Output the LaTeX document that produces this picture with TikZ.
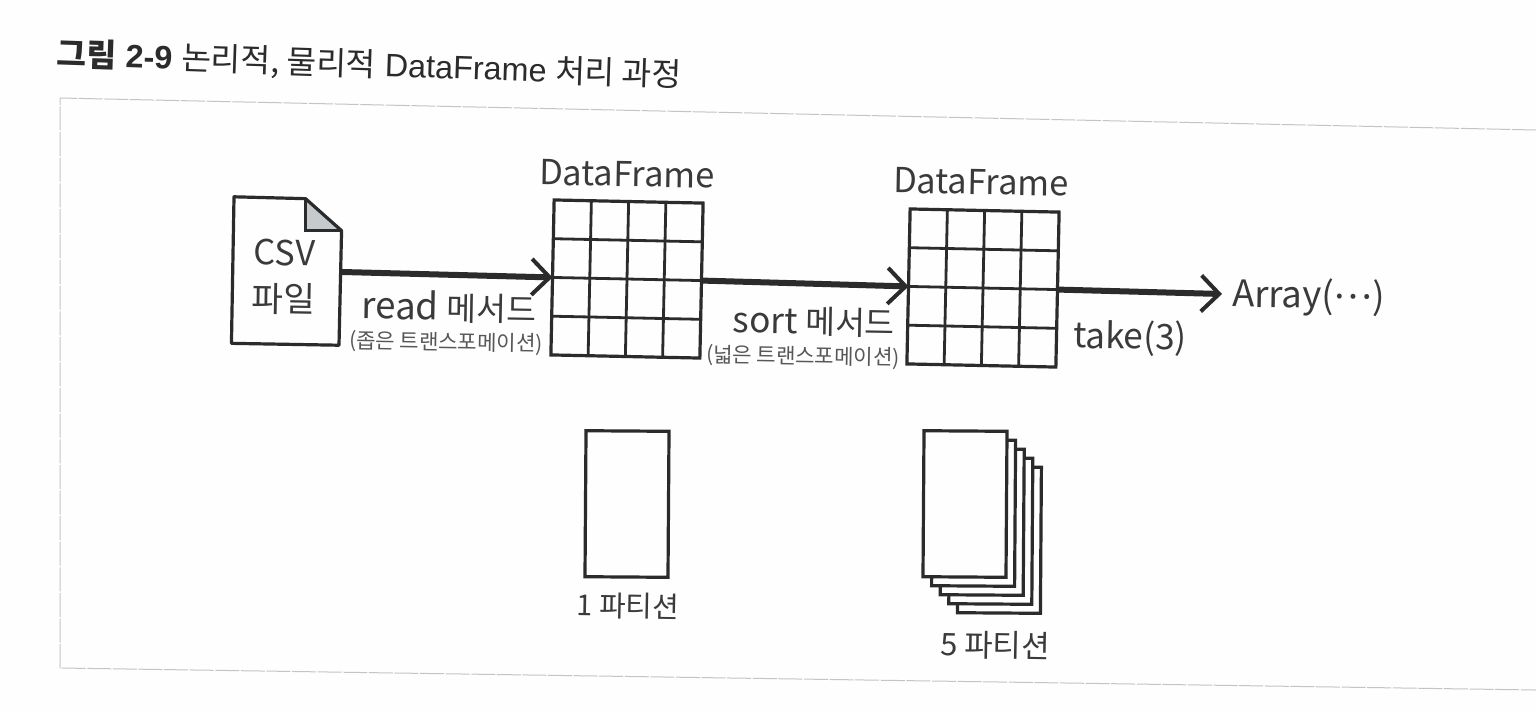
\documentclass[tikz,border=0pt]{standalone}
\usepackage{fontspec}
\usepackage{xcolor}
\usetikzlibrary{arrows.meta,calc}
\setmainfont{Liberation Sans}
\newfontfamily\krfont{Noto Sans CJK KR}
\definecolor{paper}{HTML}{FEFEFE}
\definecolor{ink}{HTML}{2B2B2B}
\definecolor{handink}{HTML}{3A3A3A}
\definecolor{framegray}{HTML}{C4C4C4}
\definecolor{foldgray}{HTML}{C6CACC}
\tikzset{
  >={Straight Barb[length=4.5mm,width=9mm,line width=1mm]},
  flow/.style={draw=ink, line width=1.5mm, ->},
  sheet/.style={draw=ink, fill=paper, line width=.8mm, minimum width=20.75mm,
    minimum height=36.5mm, inner sep=0pt, outer sep=0pt, rotate=-.4},
  gridbox/.style={draw=ink, line width=.8mm, minimum width=37.25mm,
    minimum height=38.75mm, inner sep=0pt, outer sep=0pt, rotate=-1.2},
  gridline/.style={draw=ink, line width=.7mm},
  hand/.style={font=\krfont\fontsize{24.5}{33}\selectfont, text=handink, inner sep=0pt,
    align=center, rotate=-1},
  method/.style={hand, font=\krfont\fontsize{26}{30}\selectfont},
  part/.style={hand, font=\krfont\fontsize{20.5}{24}\selectfont},
  tiny/.style={font=\krfont\fontsize{15}{18}\selectfont, text=handink!85, inner sep=0pt,
    rotate=-1}
}
\begin{document}
\begin{tikzpicture}[x=.25mm,y=-.25mm]
  \useasboundingbox[fill=paper] (0,0) rectangle (1536,712);

  % -------------------------------------------------------------------
  % Caption and page frame.
  \node[font=\fontsize{23}{27}\selectfont, text=ink, anchor=west, inner sep=0pt,
    rotate=-1.9] (caption) at (57,55)
    {{\krfont\bfseries 그림} \textbf{2-9} {\krfont 논리적, 물리적} DataFrame {\krfont 처리 과정}};
  \coordinate (frameTR) at (1536,130);
  \coordinate (frameTL) at (60,98);
  \coordinate (frameBL) at (60,668);
  \coordinate (frameBR) at (1536,690);
  \draw[framegray, line width=.25mm, dash pattern=on 6mm off .4mm]
    (frameTR) -- (frameTL) -- (frameBL) -- (frameBR);

  % -------------------------------------------------------------------
  % CSV file.
  \node[minimum width=26.75mm, minimum height=36.5mm, inner sep=0pt, rotate=-1]
    (csvFile) at (286.5,271) {};
  \path[fill=foldgray] ($(csvFile.north east)+(-36,0)$) -- ($(csvFile.north east)+(0,32)$)
    -- ($(csvFile.north east)+(-36,32)$) -- cycle;
  \draw[ink, line width=.8mm, line join=round] (csvFile.north west)
    -- ($(csvFile.north east)+(-36,0)$) -- ($(csvFile.north east)+(0,32)$)
    -- (csvFile.south east) -- (csvFile.south west) -- cycle;
  \draw[ink, line width=.7mm] ($(csvFile.north east)+(-36,0)$)
    -- ($(csvFile.north east)+(-36,32)$) -- ($(csvFile.north east)+(0,32)$);
  \node[hand] (csvLabel) at (284,277) {CSV\\파일};

  % -------------------------------------------------------------------
  % The two DataFrame grids.
  \node[gridbox] (gridA) at (627,279) {};
  \node[gridbox] (gridB) at (983,288) {};
  \foreach \g in {gridA,gridB} {
    \foreach \t in {.25,.5,.75} {
      \draw[gridline] ($(\g.north west)!\t!(\g.north east)$) -- ($(\g.south west)!\t!(\g.south east)$);
      \draw[gridline] ($(\g.north west)!\t!(\g.south west)$) -- ($(\g.north east)!\t!(\g.south east)$);
    }
  }
  \node[hand] (titleA) at (627,174) {DataFrame};
  \node[hand] (titleB) at (981,182) {DataFrame};

  % -------------------------------------------------------------------
  % Flow along the top row.
  \coordinate (arrayTip) at (1222,294);
  \node[method, anchor=west] (arrayOut) at (1232,296) {Array(\raisebox{.28em}{…})};
  \draw[flow] (csvFile.east) -- (gridA.west);
  \draw[flow] (gridA.east) -- (gridB.west);
  \draw[flow] (gridB.east) -- (arrayTip);
  \node[method] (readLabel) at (449,307) {read {\fontsize{23}{26}\selectfont 메서드}};
  \node[tiny] (readNote) at (446,343) {(좁은 트랜스포메이션)};
  \node[method, font=\krfont\fontsize{25}{29}\selectfont] (sortLabel) at (814,322)
    {sort {\fontsize{23}{26}\selectfont 메서드}};
  \node[tiny] (sortNote) at (803,357) {(넓은 트랜스포메이션)};
  \node[method, font=\krfont\fontsize{25}{29}\selectfont] (takeLabel) at (1130,338) {take(3)};

  % -------------------------------------------------------------------
  % Partitions.
  \node[sheet] (partOne) at (627,504) {};
  \node[part] (partOneLabel) at (628,606) {1 파티션};
  \foreach \i in {4,3,2,1,0} {
    \node[sheet] (partFive\i) at ({965+8.6*\i},{504+9*\i}) {};
  }
  \node[part, font=\krfont\fontsize{22}{26}\selectfont] (partFiveLabel) at (995,645) {5 파티션};
\end{tikzpicture}
\end{document}
